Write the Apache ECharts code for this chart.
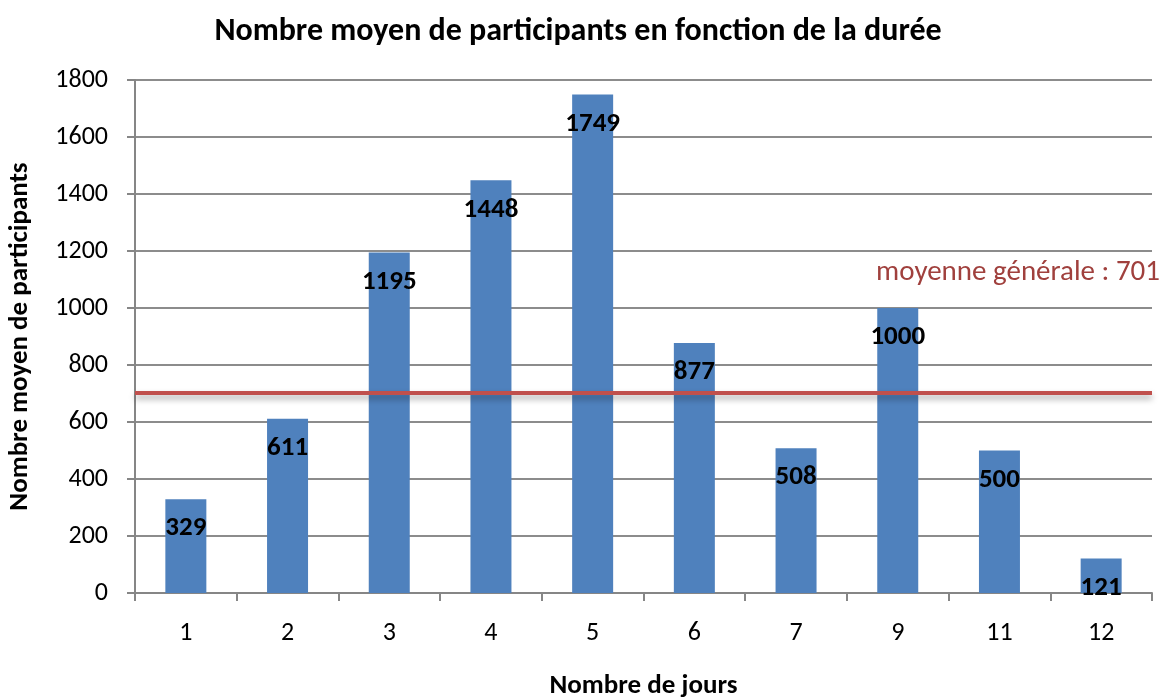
<!DOCTYPE html>
<html>
<head>
<meta charset="utf-8">
<script src="https://cdn.jsdelivr.net/npm/echarts@6/dist/echarts.min.js"></script>
<style>
html, body { margin: 0; padding: 0; background: #fff; }
.chart { width: 1161px; height: 697px; }
</style>
</head>
<body>
<div class="chart"></div>
<script>
// données
var jours = ['1', '2', '3', '4', '5', '6', '7', '9', '11', '12'];
var participants = [329, 611, 1195, 1448, 1749, 877, 508, 1000, 500, 121];
var moyenne = 701;
var yTicks = [0, 200, 400, 600, 800, 1000, 1200, 1400, 1600, 1800];

(function() {
	var myChart = echarts.init(document.querySelector('.chart'))
	var font = 'Carlito, Open Sans, Noto Sans, sans-serif'
	let option = {
		animation: false,
		textStyle: { fontFamily: font },
		title: {
			text: 'Nombre moyen de participants en fonction de la durée',
			left: 577 - 4,
			top: 11,
			textAlign: 'center',
			textStyle: { fontSize: 32, fontWeight: 'bold', color: '#000', fontFamily: font }
		},
		grid: {
			left: 135,
			right: 9,
			top: 80,
			bottom: 104,
			outerBoundsMode: 'none'
		},
		xAxis: {
			type: 'category',
			data: jours,
			name: 'Nombre de jours',
			nameLocation: 'middle',
			nameGap: 80,
			nameTextStyle: { fontSize: 27, fontWeight: 'bold', color: '#000' },
			axisLine: { lineStyle: { color: '#868686', width: 2 } },
			axisTick: { show: true, length: 8, lineStyle: { color: '#868686', width: 2 } },
			axisLabel: { color: '#000', fontSize: 26, margin: 27 }
		},
		yAxis: {
			type: 'value',
			min: yTicks[0],
			max: yTicks[yTicks.length - 1],
			interval: 200,
			name: 'Nombre moyen de participants',
			nameLocation: 'middle',
			nameGap: 101,
			nameTextStyle: { fontSize: 27, fontWeight: 'bold', color: '#000' },
			axisLine: { show: true, lineStyle: { color: '#868686', width: 2 } },
			axisTick: { show: true, inside: false, length: 8, lineStyle: { color: '#868686', width: 2 } },
			axisLabel: { color: '#000', fontSize: 26, margin: 27, formatter: function(v) { return String(v) } },
			splitLine: { lineStyle: { color: '#8c8c8c', width: 2 } }
		},
		series: [{
			name: 'participants',
			type: 'bar',
			data: participants,
			barWidth: 41,
			itemStyle: { color: '#4F81BD' },
			label: {
				show: true,
				position: 'insideTop',
				distance: 16,
				color: '#000',
				fontSize: 27,
				fontWeight: 'bold'
			},
			markLine: {
				silent: true,
				symbol: 'none',
				data: [{ yAxis: moyenne }],
				lineStyle: {
					color: '#C0504D',
					type: 'solid',
					width: 4,
					shadowColor: 'rgba(0,0,0,0.35)',
					shadowBlur: 6,
					shadowOffsetY: 4
				},
				label: {
					show: true,
					position: 'insideEndTop',
					formatter: 'moyenne générale : ' + moyenne,
					color: '#A0403D',
					fontSize: 29,
					distance: [0, 106],
					offset: [8, 0]
				}
			}
		}]
	};
	myChart.setOption(option);
})();
</script>
</body>
</html>
